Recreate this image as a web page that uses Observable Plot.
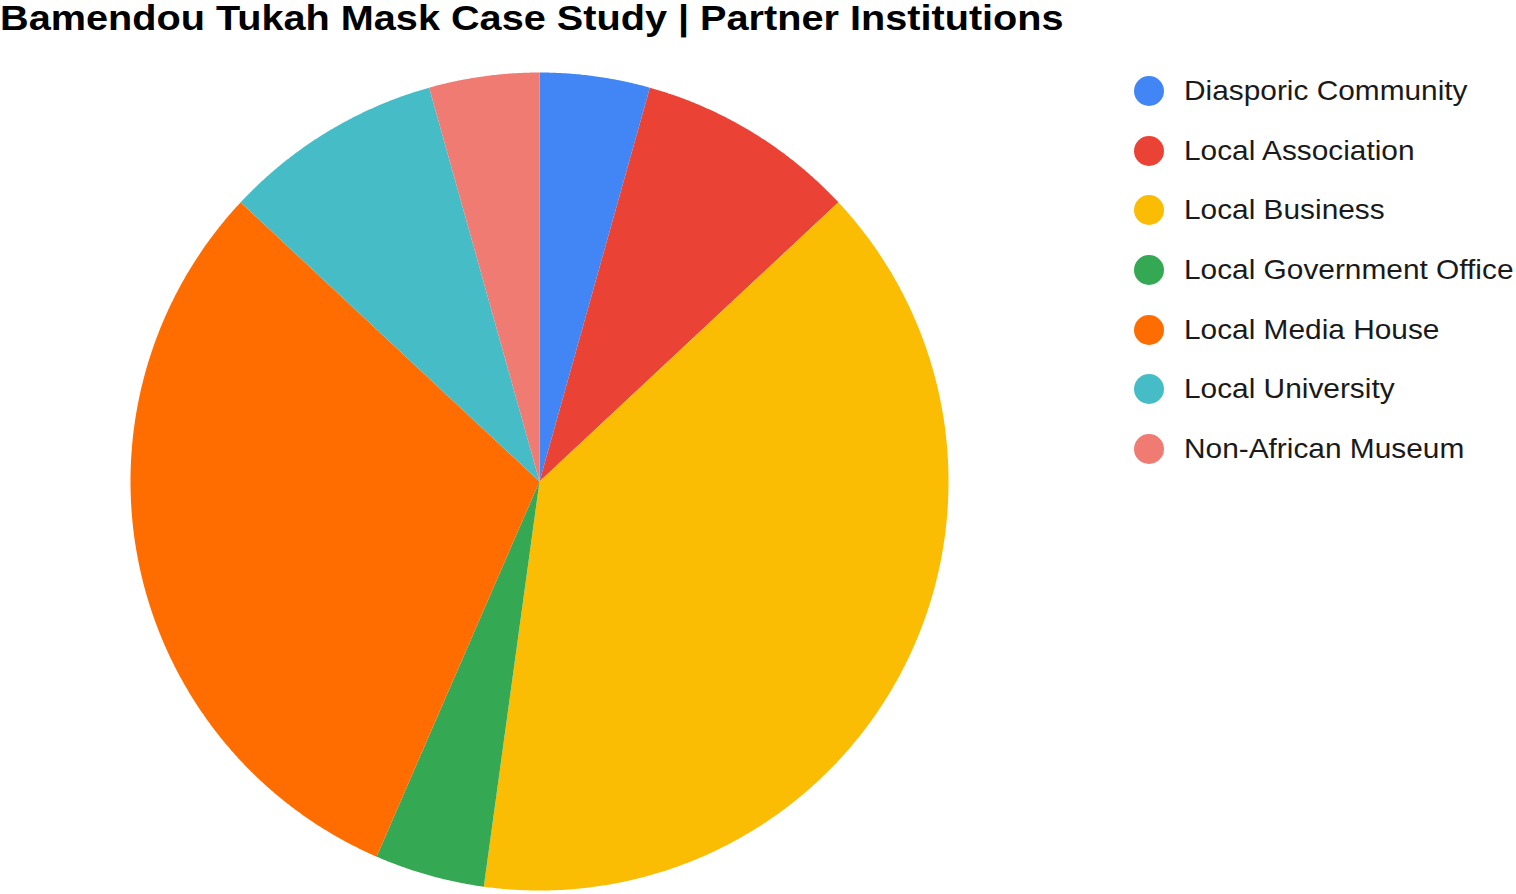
<!DOCTYPE html>
<html>
<head>
<meta charset="utf-8">
<script src="https://cdn.jsdelivr.net/npm/d3@7"></script>
<script src="https://cdn.jsdelivr.net/npm/@observablehq/plot@0.6"></script>
<style>
  html, body { margin: 0; padding: 0; background: #ffffff; }
  body { width: 1516px; height: 894px; position: relative; overflow: hidden; font-family: "Liberation Sans", Arial, sans-serif; }
  #title { position: absolute; left: 0; top: -2px; font-size: 35px; font-weight: bold; color: #000; white-space: nowrap; transform: scaleX(1.133); transform-origin: 0 0; }
  #chart { position: absolute; left: 0; top: 40px; }
  #legend { position: absolute; left: 1134px; top: 61px; }
  .row { display: flex; align-items: center; height: 59.7px; }
  .sw { width: 30px; height: 30px; border-radius: 50%; margin-right: 20px; flex: none; }
  .lbl { font-size: 27.5px; color: #1a1a1a; white-space: nowrap; transform: scaleX(1.085); transform-origin: 0 50%; }
</style>
</head>
<body>
<div id="title">Bamendou Tukah Mask Case Study | Partner Institutions</div>
<div id="chart"></div>
<div id="legend"></div>
<script>
const categories = ["Diasporic Community", "Local Association", "Local Business", "Local Government Office", "Local Media House", "Local University", "Non-African Museum"];
const counts = [1, 2, 9, 1, 7, 2, 1];
const colors = ["#4285F4", "#EA4335", "#FBBC04", "#34A853", "#FF6D01", "#46BDC6", "#F07B72"];

const data = categories.map((name, i) => ({name, value: counts[i]}));
const arcs = d3.pie().sort(null).value(d => d.value)(data);

// Build slice polygons on the unit circle (angle 0 = 12 o'clock, clockwise)
const features = arcs.map(a => {
  const ring = [[0, 0]];
  const n = Math.max(2, Math.ceil((a.endAngle - a.startAngle) / (Math.PI / 720)));
  for (let k = 0; k <= n; k++) {
    const t = a.startAngle + (a.endAngle - a.startAngle) * k / n;
    ring.push([Math.sin(t), -Math.cos(t)]);
  }
  ring.push([0, 0]);
  return {type: "Feature", properties: {name: a.data.name, value: a.data.value}, geometry: {type: "Polygon", coordinates: [ring]}};
});
const collection = {type: "FeatureCollection", features};

const chart = Plot.plot({
  width: 1516,
  height: 854,
  marginLeft: 130,
  marginRight: 568,
  marginTop: 32,
  marginBottom: 4,
  style: {background: "#ffffff"},
  projection: {type: "identity", domain: collection, clip: false},
  color: {domain: categories, range: colors},
  marks: [
    Plot.geo(features, {fill: d => d.properties.name, stroke: "none"})
  ]
});
document.getElementById("chart").appendChild(chart);

const legend = document.getElementById("legend");
categories.forEach((c, i) => {
  const row = document.createElement("div");
  row.className = "row";
  const sw = document.createElement("div");
  sw.className = "sw";
  sw.style.background = colors[i];
  const lbl = document.createElement("div");
  lbl.className = "lbl";
  lbl.textContent = c;
  row.appendChild(sw);
  row.appendChild(lbl);
  legend.appendChild(row);
});
</script>
</body>
</html>
